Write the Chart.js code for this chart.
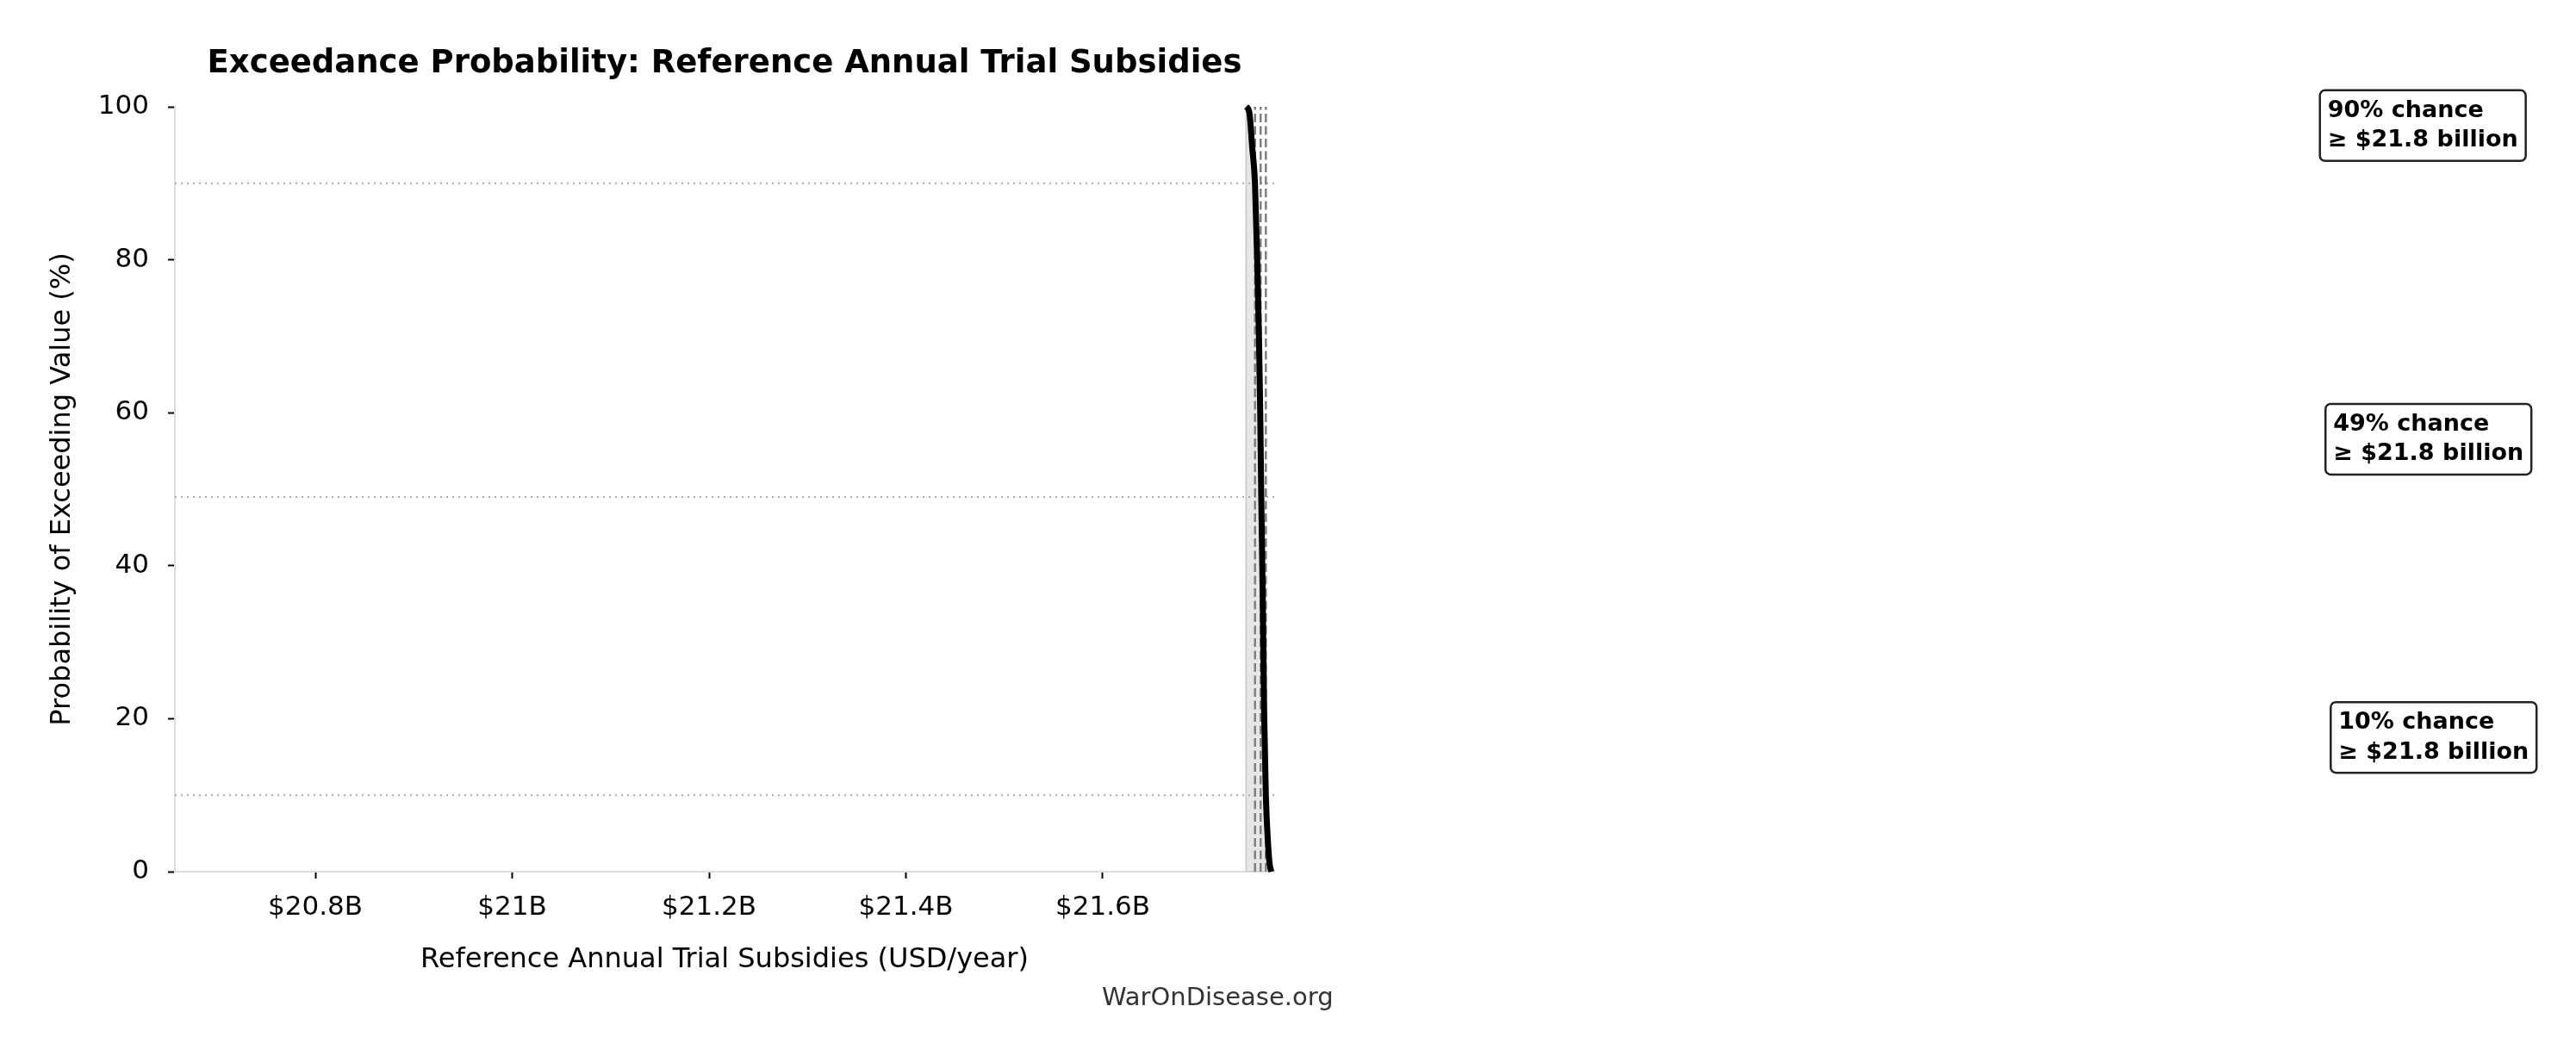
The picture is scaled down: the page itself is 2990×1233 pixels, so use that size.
<!DOCTYPE html>
<html>
<head>
<meta charset="utf-8">
<script src="https://cdn.jsdelivr.net/npm/chart.js@4.4.1/dist/chart.umd.min.js"></script>
<style>
  html, body { margin: 0; padding: 0; background: #fff; }
  #wrap { width: 2990px; height: 1233px; }
</style>
</head>
<body>
<div id="wrap"><canvas id="chart" width="2990" height="1233"></canvas></div>
<script>
// exceedance curve (x in billions USD/year, y in % chance of exceeding)
const CURVE_X = [21.7457, 21.7475, 21.7490, 21.75028, 21.75168, 21.75466, 21.75694, 21.75869, 21.76000,
                 21.76105, 21.76254, 21.76394, 21.76569, 21.76779, 21.76954, 21.77129];
const CURVE_P = [100, 99.8, 99.2, 97.5, 95, 90, 80, 70, 60, 49, 36, 21, 10, 4, 1, 0];

// percentile markers
const PCT_LEVELS = [90, 49, 10];
const PCT_X = [21.7547, 21.7604, 21.7657];
const PCT_LABELS = ["90% chance", "49% chance", "10% chance"];
const PCT_VALUES = ["≥ $21.8 billion", "≥ $21.8 billion", "≥ $21.8 billion"];

const X_MIN = 20.6573;
const X_MAX = 21.7742;
const X_TICKS = [20.8, 21.0, 21.2, 21.4, 21.6];
const X_TICK_LABELS = ["$20.8B", "$21B", "$21.2B", "$21.4B", "$21.6B"];
const Y_TICKS = [0, 20, 40, 60, 80, 100];

const TITLE = "Exceedance Probability: Reference Annual Trial Subsidies";
const X_TITLE = "Reference Annual Trial Subsidies (USD/year)";
const Y_TITLE = "Probability of Exceeding Value (%)";
const WATERMARK = "WarOnDisease.org";

const FONT = "'DejaVu Sans', 'Liberation Sans', sans-serif";
Chart.defaults.font.family = FONT;
Chart.defaults.color = "#000";

const TICK_GRID = { drawOnChartArea: false, drawTicks: true, tickLength: 8, tickWidth: 2, tickColor: "#000" };
const BORDER = { color: "#dddddd", width: 2 };

const datasets = [
  {
    data: CURVE_X.map((x, i) => ({ x, y: CURVE_P[i] })),
    borderColor: "#000",
    borderWidth: 7,
    backgroundColor: "rgba(128,128,128,0.2)",
    fill: "origin",
    pointRadius: 0,
    cubicInterpolationMode: "monotone",
    clip: false,
  },
  ...PCT_X.map((x) => ({
    data: [{ x, y: 0 }, { x, y: 100 }],
    borderColor: "#808080",
    borderWidth: 2.5,
    borderDash: [10, 4.5],
    pointRadius: 0,
    fill: false,
  })),
  ...PCT_LEVELS.map((p) => ({
    data: [{ x: X_MIN, y: p }, { x: X_MAX, y: p }],
    borderColor: "#aaaaaa",
    borderWidth: 2,
    borderDash: [2, 5],
    pointRadius: 0,
    fill: false,
  })),
  {
    // edge of the shaded area
    data: [{ x: CURVE_X[0], y: 0 }, { x: CURVE_X[0], y: CURVE_P[0] }],
    borderColor: "#cfcfcf",
    borderWidth: 2,
    pointRadius: 0,
    fill: false,
  },
];

const textPlugin = {
  id: "texts",
  afterDraw(chart) {
    const { ctx, chartArea: a, scales: { x, y } } = chart;
    const cx = (a.left + a.right) / 2;
    ctx.save();
    ctx.fillStyle = "#000";
    ctx.textAlign = "center";
    ctx.textBaseline = "alphabetic";
    ctx.font = `bold 37px ${FONT}`;
    ctx.fillText(TITLE, cx, 84);

    ctx.font = `32px ${FONT}`;
    ctx.fillText(X_TITLE, cx, 1123);

    ctx.save();
    ctx.translate(73, (a.top + a.bottom) / 2);
    ctx.rotate(-Math.PI / 2);
    ctx.textBaseline = "middle";
    ctx.fillText(Y_TITLE, 0, 0);
    ctx.restore();

    ctx.font = `29px ${FONT}`;
    ctx.fillStyle = "#333";
    ctx.textAlign = "left";
    ctx.fillText(WATERMARK, 1279, 1167);

    // annotation boxes
    ctx.font = `bold 27px ${FONT}`;
    PCT_LEVELS.forEach((p, i) => {
      const lines = [PCT_LABELS[i], PCT_VALUES[i]];
      const w = Math.max(...lines.map((t) => ctx.measureText(t).width)) + 18;
      const h = 82;
      const bx = x.getPixelForValue(PCT_X[i]) + 1236;
      const by = y.getPixelForValue(p) - 67 - h / 2;
      ctx.beginPath();
      ctx.roundRect(bx, by, w, h, 6);
      ctx.fillStyle = "#fff";
      ctx.fill();
      ctx.lineWidth = 2.5;
      ctx.strokeStyle = "#222";
      ctx.stroke();
      ctx.fillStyle = "#000";
      ctx.fillText(lines[0], bx + 9, by + 31);
      ctx.fillText(lines[1], bx + 9, by + 65.5);
    });
    ctx.restore();
  },
};

new Chart(document.getElementById("chart"), {
  type: "line",
  data: { datasets },
  options: {
    responsive: false,
    devicePixelRatio: 1,
    animation: false,
    layout: { padding: { left: 0, top: 124, right: 1511, bottom: 0 } },
    plugins: {
      legend: { display: false },
      tooltip: { enabled: false },
      filler: { drawTime: "beforeDatasetsDraw" },
    },
    scales: {
      x: {
        type: "linear",
        min: X_MIN,
        max: X_MAX,
        afterBuildTicks: (s) => { s.ticks = X_TICKS.map((v) => ({ value: v })); },
        afterFit: (s) => { s.height = 221; },
        ticks: {
          callback: (v, i) => X_TICK_LABELS[i],
          font: { size: 31 },
          color: "#000",
          padding: 15,
          maxRotation: 0,
          autoSkip: false,
        },
        grid: TICK_GRID,
        border: BORDER,
      },
      y: {
        type: "linear",
        min: 0,
        max: 100,
        afterBuildTicks: (s) => { s.ticks = Y_TICKS.map((v) => ({ value: v })); },
        afterFit: (s) => { s.width = 203; },
        ticks: { font: { size: 31 }, color: "#000", padding: 22 },
        grid: TICK_GRID,
        border: BORDER,
      },
    },
  },
  plugins: [textPlugin],
});
</script>
</body>
</html>
